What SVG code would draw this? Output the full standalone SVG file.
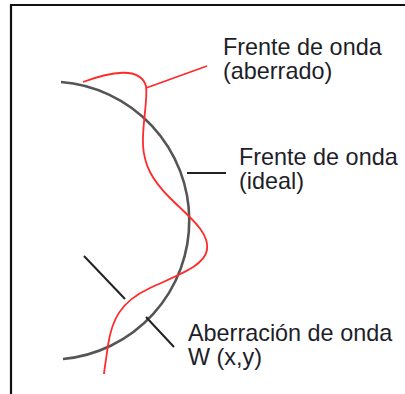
<svg xmlns="http://www.w3.org/2000/svg" width="405" height="394" viewBox="0 0 405 394">
<style>
.lbl{font-family:"Liberation Sans",Arial,sans-serif;font-size:23.4px;fill:#1e1e2a}
.frame{stroke:#111;stroke-width:2.2;fill:none}
.ideal{stroke:#555;stroke-width:2.6;fill:none}
.aber{stroke:#ff2a2a;stroke-width:1.8;fill:none}
.tick{stroke:#222;stroke-width:2;fill:none}
</style>
<rect x="0" y="0" width="405" height="394" fill="#fff"/>
<g id="frame">
<line class="frame" x1="10" y1="5" x2="405" y2="5"/>
<line class="frame" x1="11" y1="4" x2="11" y2="394"/>
</g>
<g id="ideal-wavefront">
<path class="ideal" d="M61 82 A139 139 0 0 1 63 359"/>
</g>
<g id="aberrated-wavefront">
<path class="aber" d="M83 82 C110 72,140 66,146 86 C148 100,142 125,143 145 C144 165,152 180,170 198 C188 216,210 232,207 250 C204 266,180 274,150 288 C120 302,112 320,108 345 C106 360,104 372,104 374"/>
</g>
<g id="connectors">
<line class="aber" x1="146" y1="88" x2="207" y2="66"/>
<line class="tick" x1="187" y1="173" x2="226" y2="173"/>
<line class="tick" x1="146" y1="317" x2="174" y2="347"/>
<line class="tick" x1="84" y1="256" x2="125" y2="299"/>
</g>
<g id="label-aberrado">
<text class="lbl" x="223" y="55">Frente de onda</text>
<text class="lbl" x="223" y="79">(aberrado)</text>
</g>
<g id="label-ideal">
<text class="lbl" x="239" y="165">Frente de onda</text>
<text class="lbl" x="239" y="189">(ideal)</text>
</g>
<g id="label-aberracion">
<text class="lbl" x="188" y="341">Aberración de onda</text>
<text class="lbl" x="188" y="365">W (x,y)</text>
</g>
</svg>
